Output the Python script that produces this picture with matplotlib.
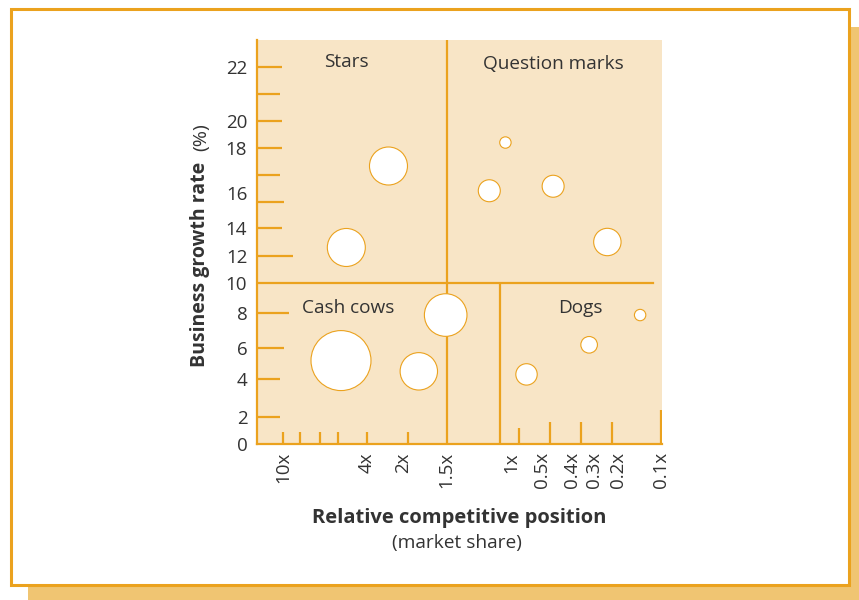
import numpy as np
import matplotlib.pyplot as plt
from matplotlib.patches import Rectangle

plt.rcParams['font.family'] = ['Open Sans', 'DejaVu Sans']

# colours
ORANGE = '#EBA21E'
BEIGE = '#F8E5C6'
SHADOW = '#F0C572'
TEXT = '#333333'

# bubbles: relative market share, growth rate (%), bubble diameter (px)
bubble_share = [2.63, 5.0, 1.04, 1.15, 0.46, 0.24, 5.3, 1.80, 1.51, 0.71, 0.32, 0.14]
bubble_growth = [17.2, 12.6, 18.4, 16.1, 16.3, 13.0, 5.2, 4.5, 7.9, 4.3, 6.2, 7.9]
bubble_diam = [38, 38, 11.4, 22, 22, 27.4, 60, 37.4, 42.6, 21.4, 16.6, 11.4]

quadrant_names = ['Stars', 'Question marks', 'Cash cows', 'Dogs']

growth_labels = [22, 20, 18, 16, 14, 12, 10, 8, 6, 4, 2, 0]
share_labels = [10, 4, 2, 1.5, 1, 0.5, 0.4, 0.3, 0.2, 0.1]
share_text = ['10x', '4x', '2x', '1.5x', '1x', '0.5x', '0.4x', '0.3x', '0.2x', '0.1x']

# tick marks as drawn (not always lined up with the labels)
growth_ticks = [22, 21, 20, 18, 16.8, 15.5, 14, 12, 8, 6, 4, 2]
share_ticks = [10, 8.3, 6.7, 5.5, 4, 1.93, 0.84, 0.47, 0.355, 0.222, 0.1]

split_growth = 10
split_share_top = 1.5
split_share_low = 1.076

# the printed axes are hand drawn and unevenly spaced,
# so both scales go through these points (px inside the plot box)
x_knot_share = [13.3, 10, 4, 2, 1.5, 1, 0.5, 0.4, 0.3, 0.2, 0.1, 0.098]
x_knot_px = [0, 26, 109.7, 145.7, 189.7, 254.7, 284.7, 315.3, 337, 361.3, 403.7, 405]
y_knot_growth = [0, 2, 4, 6, 8, 10, 12, 14, 16, 18, 20, 22, 23]
y_knot_px = [0, 26.7, 64.7, 95.4, 130.4, 161, 188, 215.4, 250.7, 295.7, 323, 377, 403.7]

xk = -np.log10(x_knot_share)


def fwd_x(s):
    s = np.clip(np.asarray(s, dtype=float), 1e-6, None)
    return np.interp(-np.log10(s), xk, x_knot_px)


def inv_x(p):
    return 10 ** (-np.interp(p, x_knot_px, xk))


def fwd_y(v):
    return np.interp(v, y_knot_growth, y_knot_px)


def inv_y(p):
    return np.interp(p, y_knot_px, y_knot_growth)


W, H = 859, 600
fig = plt.figure(figsize=(W / 100, H / 100), dpi=100)

#shadow + framed card
fig.add_artist(Rectangle((28 / W, 0), 1, 1 - 27 / H, transform=fig.transFigure,
                         facecolor=SHADOW, edgecolor='none', zorder=-3))
fig.add_artist(Rectangle((10.5 / W, 1 - 584.5 / H), 838 / W, 576 / H,
                         transform=fig.transFigure, facecolor='white',
                         edgecolor=ORANGE, lw=2.2, zorder=-2))

ax = fig.add_axes([257 / W, 1 - 443.7 / H, 405 / W, 403.7 / H])
ax.set_facecolor(BEIGE)
ax.set_xscale('function', functions=(fwd_x, inv_x))
ax.set_yscale('function', functions=(fwd_y, inv_y))
# decreasing transform: give limits low->high, market leaders end up on the left
ax.set_xlim(0.098, 13.3)
ax.set_ylim(0, 23)

for side in ['top', 'right']:
    ax.spines[side].set_visible(False)
for side in ['left', 'bottom']:
    ax.spines[side].set_color(ORANGE)
    ax.spines[side].set_linewidth(1.6)

ax.set_yticks(growth_labels, [str(v) for v in growth_labels])
ax.set_xticks(share_labels, share_text, rotation=90)
ax.minorticks_off()
ax.tick_params(axis='y', length=0, pad=7, labelsize=13.5, labelcolor=TEXT)
ax.tick_params(axis='x', length=0, pad=6, labelsize=13.5, labelcolor=TEXT)

# tick marks pointing into the plot, each its own length (px)
growth_tick_len = [25, 22.7, 25, 25, 23, 26.7, 25, 36, 32, 27, 23, 23]
share_tick_len = [12, 12, 12, 12, 12, 12, 15.7, 22, 22, 22, 34]
ytf = ax.get_yaxis_transform()
for v, L in zip(growth_ticks, growth_tick_len):
    ax.plot([0, L / 405], [v, v], transform=ytf, color=ORANGE, lw=1.6,
            solid_capstyle='butt')
xtf = ax.get_xaxis_transform()
for s, L in zip(share_ticks, share_tick_len):
    ax.plot([s, s], [0, L / 403.7], transform=xtf, color=ORANGE, lw=1.6,
            solid_capstyle='butt')

# quadrant dividers
ax.axvline(split_share_top, color=ORANGE, lw=1.6)
ax.axhline(split_growth, xmin=0, xmax=395.7 / 405, color=ORANGE, lw=1.6)
ax.vlines(split_share_low, 0, split_growth, color=ORANGE, lw=1.6)

ax.scatter(bubble_share, bubble_growth, s=(np.array(bubble_diam) * 0.72) ** 2,
           facecolor='white', edgecolor=ORANGE, linewidth=0.8, zorder=5)

quad_pos = [(0.22, 0.945), (0.731, 0.941), (0.225, 0.336), (0.798, 0.336)]
for name, (qx, qy) in zip(quadrant_names, quad_pos):
    ax.text(qx, qy, name, transform=ax.transAxes, ha='center', va='center',
            fontsize=13.7, color=TEXT)

# axis titles
fig.text(200 / W, 1 - 367 / H, 'Business growth rate', rotation=90,
         ha='center', va='bottom', fontsize=14, fontweight='bold', color=TEXT)
fig.text(201 / W, 1 - 151 / H, '(%)', rotation=90,
         ha='center', va='bottom', fontsize=14, color=TEXT)
fig.text(459 / W, 1 - 518 / H, 'Relative competitive position',
         ha='center', va='center', fontsize=14.5, fontweight='bold', color=TEXT)
fig.text(457 / W, 1 - 543 / H, '(market share)',
         ha='center', va='center', fontsize=13.8, color=TEXT)

fig.savefig('out.png', dpi=100)
